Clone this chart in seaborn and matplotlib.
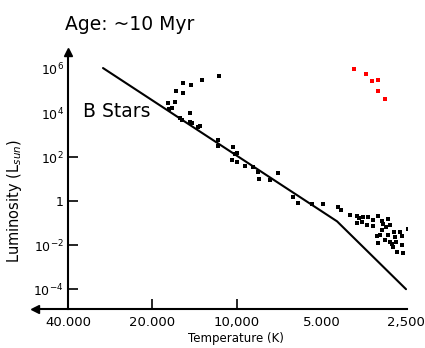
import matplotlib
matplotlib.use("Agg")
import matplotlib.pyplot as plt
import seaborn as sns
import pandas as pd

# Main-sequence line (Temperature K, Luminosity L_sun)
line_T = [30000, 4400, 2500]
line_L = [1.1e6, 0.12, 1.0e-4]

# Black stars (Temperature K, Luminosity L_sun)
star_T = [15600, 14600, 13300, 11600, 16500, 15600, 16600, 17600, 17000, 17500,
          14700, 15960, 15700, 14700, 14450, 13800, 13550, 11700, 11700, 10330,
          10000, 10160, 10420, 10000, 9370, 8770, 8420, 8350, 7620, 7140,
          6320, 6060, 5400, 4940, 4370, 4260, 3960, 3740, 3680, 3560,
          3420, 3740, 3590, 3280, 3150, 3050, 2900, 3450, 3280, 3020,
          2950, 2850, 3050, 2760, 2630, 2460, 3170, 3100, 2900, 2740,
          2580, 2970, 2850, 2720, 3150, 2800, 2580, 2780, 2690, 2560]
star_L = [2.3e5, 1.9e5, 3.2e5, 4.8e5, 1.0e5, 7.9e4, 3.2e4, 2.8e4, 1.7e4, 1.5e4,
          1.0e4, 5.9e3, 4.8e3, 3.9e3, 3.5e3, 2.3e3, 2.6e3, 590, 320, 280,
          150, 140, 72, 59, 39, 35, 21, 10, 9, 19,
          1.5, 0.81, 0.73, 0.73, 0.54, 0.39, 0.23, 0.21, 0.17, 0.19,
          0.19, 0.10, 0.11, 0.14, 0.21, 0.12, 0.15, 0.081, 0.072, 0.089,
          0.066, 0.081, 0.048, 0.039, 0.039, 0.054, 0.026, 0.028, 0.028, 0.023,
          0.026, 0.017, 0.014, 0.014, 0.012, 0.011, 0.010, 0.0081, 0.0048, 0.0044]

# Red giants
red_T = [3830, 3470, 3310, 3150, 3150, 2970]
red_L = [1.0e6, 5.9e5, 2.8e5, 3.2e5, 1.0e5, 4.4e4]

x_ticks = [40000, 20000, 10000, 5000, 2500]
x_labels = ["40.000", "20.000", "10,000", "5.000", "2,500"]
y_ticks = [1e6, 1e4, 1e2, 1, 1e-2, 1e-4]
y_labels = [r"$10^{6}$", r"$10^{4}$", r"$10^{2}$", "1", r"$10^{-2}$", r"$10^{-4}$"]

sns.set_style("white")
plt.rcParams["font.family"] = ["DejaVu Sans"]
plt.rcParams["text.color"] = "black"
plt.rcParams["axes.labelcolor"] = "black"

fig = plt.figure(figsize=(4.25, 3.48), dpi=100)
ax = fig.add_axes([35 / 425, 1 - 309 / 348, 372 / 425, 257 / 348])
ax.set_xscale("log")
ax.set_yscale("log")

stars = pd.DataFrame({"T": star_T, "L": star_L})
reds = pd.DataFrame({"T": red_T, "L": red_L})
ms = pd.DataFrame({"T": line_T, "L": line_L})

sns.lineplot(data=ms, x="T", y="L", sort=False, color="black", linewidth=1.5, ax=ax)
sns.scatterplot(data=stars, x="T", y="L", color="black", marker="s", s=5.5,
                linewidth=0, ax=ax)
sns.scatterplot(data=reds, x="T", y="L", color="red", marker="s", s=5,
                linewidth=0, ax=ax)

ax.set_xlim(52400, 2480)
ax.set_ylim(10 ** -4.9, 10 ** 6.77)

for s in ["top", "right"]:
    ax.spines[s].set_visible(False)
ax.spines["left"].set_position(("data", 40000))
ax.spines["left"].set_linewidth(1.5)
ax.spines["bottom"].set_linewidth(1.5)
ax.spines["left"].set_color("black")
ax.spines["bottom"].set_color("black")

ax.set_xticks(x_ticks)
ax.set_xticklabels(x_labels)
ax.xaxis.set_minor_locator(matplotlib.ticker.NullLocator())
ax.set_yticks(y_ticks)
ax.set_yticklabels(y_labels)
ax.yaxis.set_minor_locator(matplotlib.ticker.NullLocator())

ax.tick_params(axis="x", direction="in", length=7, width=1.2, pad=5,
               labelsize=9.5, colors="black", bottom=True)
ax.tick_params(axis="y", direction="in", length=7, width=1.2, pad=3,
               labelsize=9, colors="black", left=True)
xt = ax.xaxis.get_major_ticks()
for i in [0, 3, 4]:
    xt[i].tick1line.set_visible(False)
yt = ax.yaxis.get_major_ticks()
for i in [0, 1]:
    yt[i].tick1line.set_visible(False)

# arrows on the axes
ax.plot(0, 0, marker="<", color="black", markersize=6, transform=ax.transAxes,
        clip_on=False)
ax.plot(40000, 1, marker="^", color="black", markersize=6,
        transform=ax.get_xaxis_transform(), clip_on=False)

ax.set_xlabel("Temperature (K)", fontsize=8.5)
ax.xaxis.set_label_coords(0.54, -0.09)
ax.set_ylabel(r"Luminosity (L$_{sun}$)", fontsize=10.5)
ax.yaxis.set_label_coords(-0.03, 0.42)

ax.text(0.129, 0.767, "B Stars", transform=ax.transAxes, fontsize=13.5,
        va="center", ha="left")
fig.text(130 / 425, 1 - 25 / 348, "Age: ~10 Myr", fontsize=13.5,
         ha="center", va="center")

fig.savefig("out.png", dpi=100)
